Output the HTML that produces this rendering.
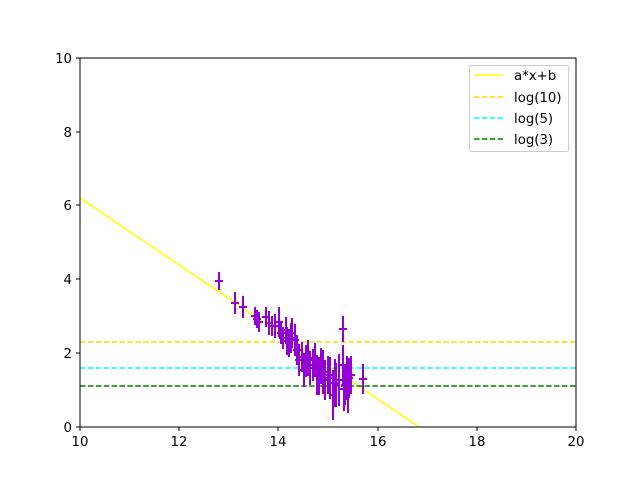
<!DOCTYPE html>
<html><head><meta charset="utf-8"><style>body{margin:0;background:#fff}svg{display:block}text{font-family:"DejaVu Sans","Liberation Sans",sans-serif;font-size:13.3px;fill:#000}</style></head>
<body>
<svg width="640" height="480" viewBox="0 0 640 480">
<rect width="640" height="480" fill="#fff"/>
<defs><clipPath id="c"><rect x="80" y="58" width="496" height="369"/></clipPath></defs>
<g clip-path="url(#c)">
<line x1="80" y1="198" x2="419" y2="427" stroke="#ffff00" stroke-width="1.5"/>
<line x1="80" y1="342" x2="576" y2="342" stroke="#ffd700" stroke-width="1.5" stroke-dasharray="5.5,2.4"/>
<line x1="80" y1="368" x2="576" y2="368" stroke="#00ffff" stroke-width="1.5" stroke-dasharray="5.5,2.4"/>
<line x1="80" y1="386" x2="576" y2="386" stroke="#008000" stroke-width="1.5" stroke-dasharray="5.5,2.4"/>
<g stroke="#9400d3" stroke-width="2" fill="none" id="pts"></g>
</g>
<rect x="80" y="58" width="496" height="369" fill="none" stroke="#000" stroke-width="1"/>
<g stroke="#000">
<line x1="80" y1="427" x2="80" y2="431"/><line x1="179" y1="427" x2="179" y2="431"/><line x1="278" y1="427" x2="278" y2="431"/><line x1="378" y1="427" x2="378" y2="431"/><line x1="477" y1="427" x2="477" y2="431"/><line x1="576" y1="427" x2="576" y2="431"/>
<line x1="76" y1="427" x2="80" y2="427"/><line x1="76" y1="353" x2="80" y2="353"/><line x1="76" y1="279" x2="80" y2="279"/><line x1="76" y1="205" x2="80" y2="205"/><line x1="76" y1="132" x2="80" y2="132"/><line x1="76" y1="58" x2="80" y2="58"/>
</g>
<g text-anchor="middle">
<text x="80" y="446">10</text><text x="179" y="446">12</text><text x="278" y="446">14</text><text x="378" y="446">16</text><text x="477" y="446">18</text><text x="576" y="446">20</text>
</g>
<g text-anchor="end">
<text x="72" y="432">0</text><text x="72" y="358">2</text><text x="72" y="284">4</text><text x="72" y="210">6</text><text x="72" y="137">8</text><text x="72" y="63">10</text>
</g>
<rect x="469.5" y="65.5" width="99" height="86" rx="2" fill="#fff" fill-opacity="0.8" stroke="#ccc"/>
<line x1="474" y1="75" x2="503" y2="75" stroke="#ffff00" stroke-width="1.5"/>
<line x1="474" y1="97" x2="503" y2="97" stroke="#ffd700" stroke-width="1.5" stroke-dasharray="5.5,2.4"/>
<line x1="474" y1="118" x2="503" y2="118" stroke="#00ffff" stroke-width="1.5" stroke-dasharray="5.5,2.4"/>
<line x1="474" y1="139" x2="503" y2="139" stroke="#008000" stroke-width="1.5" stroke-dasharray="5.5,2.4"/>
<text x="514" y="80">a*x+b</text><text x="514" y="102">log(10)</text><text x="514" y="123">log(5)</text><text x="514" y="144">log(3)</text>
</svg>
<script>
var P=[[219,281,9],[235,303,11],[243,307,11],[255,316,9],[257,319,9],[259,322,10],[266,317,10],[269,323,12],[272,326,10],[275,326,12],[279,322,15],[281,333,11],[283,338,11],[286,330,13],[287,341,14],[289,343,14],[291,338,15],[292,333,15],[295,340,16],[297,350,15],[299,360,16],[302,357,15],[304,370,17],[306,361,16],[308,358,18],[310,368,17],[313,365,16],[315,360,17],[317,375,20],[319,376,19],[321,366,18],[323,372,22],[325,380,20],[328,375,19],[330,378,21],[333,395,25],[335,383,24],[336,385,22],[343,329,13],[339,380,26],[343,365,20],[344,389,22],[345,385,20],[347,378,22],[348,390,23],[349,378,20],[351,375,19],[363,379,15]];
var g=document.getElementById('pts'),s='';
P.forEach(function(p){s+='<line x1="'+p[0]+'" y1="'+(p[1]-p[2])+'" x2="'+p[0]+'" y2="'+(p[1]+p[2])+'"/><line x1="'+(p[0]-4)+'" y1="'+p[1]+'" x2="'+(p[0]+4)+'" y2="'+p[1]+'"/>';});
g.innerHTML=s;
</script>
</body></html>
